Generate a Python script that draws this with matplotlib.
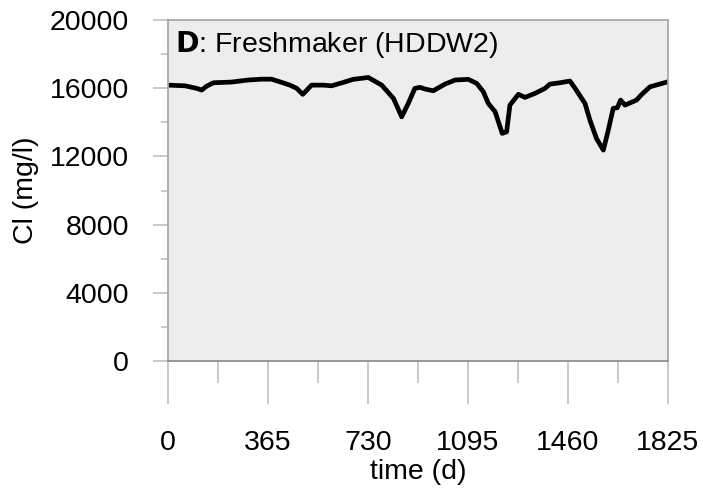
import matplotlib.pyplot as plt
from matplotlib.ticker import MultipleLocator

# chloride record for the freshmaker well
days = [0, 62, 105, 123, 141, 166, 232, 293, 342, 378, 415, 445, 470, 492,
        524, 567, 597, 640, 676, 731, 780, 823, 853, 877, 901, 920, 938, 968,
        1011, 1048, 1096, 1127, 1151, 1169, 1194, 1212, 1220, 1236, 1248,
        1279, 1303, 1340, 1376, 1394, 1431, 1467, 1486, 1510, 1522, 1540,
        1564, 1589, 1607, 1625, 1640, 1652, 1668, 1710, 1727, 1759, 1825]
cl = [16180, 16140, 15990, 15890, 16120, 16320, 16360, 16480, 16530, 16530,
      16340, 16180, 15990, 15640, 16180, 16180, 16140, 16340, 16520, 16630,
      16180, 15400, 14320, 15110, 15990, 16050, 15950, 15850, 16240, 16480,
      16520, 16280, 15790, 15110, 14620, 13740, 13350, 13440, 15010, 15640,
      15460, 15700, 15990, 16240, 16320, 16420, 15990, 15400, 15110, 14130,
      13050, 12370, 13540, 14820, 14850, 15300, 15010, 15300, 15600, 16080,
      16380]

xticks = [0, 365, 730, 1095, 1460, 1825]
yticks = [0, 4000, 8000, 12000, 16000, 20000]

plt.rcParams['font.family'] = ['Liberation Sans', 'DejaVu Sans']
fig = plt.figure(figsize=(7.03, 4.93), dpi=100)
ax = fig.add_axes([168 / 703, 132 / 493, 500 / 703, 341 / 493])
ax.set_facecolor('#ededed')

ax.plot(days, cl, color='black', lw=3.4, solid_joinstyle='round')

ax.set_xlim(0, 1825)
ax.set_ylim(0, 20000)
ax.set_xticks(xticks)
ax.set_yticks(yticks)
ax.xaxis.set_minor_locator(MultipleLocator(182.5))
ax.yaxis.set_minor_locator(MultipleLocator(2000))

ax.tick_params(axis='x', which='major', length=31, width=1.1, color='#bbbbbb',
               pad=19, labelsize=20.5)
ax.tick_params(axis='x', which='minor', length=15.5, width=1.1, color='#bbbbbb')
ax.tick_params(axis='y', which='major', length=11, width=1.1, color='#bbbbbb',
               pad=17, labelsize=20.5)
ax.tick_params(axis='y', which='minor', length=5, width=1.1, color='#bbbbbb')

for side in ['left', 'right', 'top', 'bottom']:
    ax.spines[side].set_color('#a8a8a8')
    ax.spines[side].set_linewidth(1.3)
ax.spines['bottom'].set_color('#909090')

ax.set_xlabel('time (d)', fontsize=20.5, labelpad=2)
ax.set_ylabel('Cl (mg/l)', fontsize=20.5, labelpad=8)

ax.text(0.014, 0.975, r'$\bf{D}$: Freshmaker (HDDW2)', transform=ax.transAxes,
        ha='left', va='top', fontsize=20.5)

fig.savefig('out.png', dpi=100)
